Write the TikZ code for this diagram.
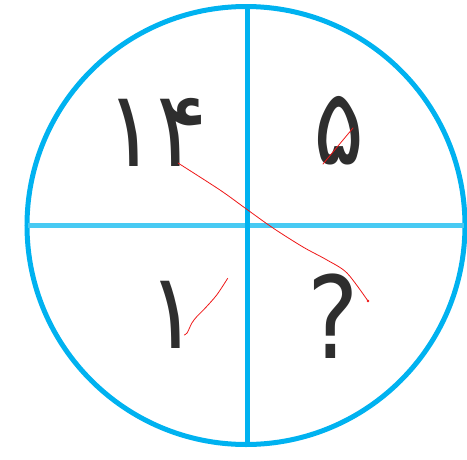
\documentclass[tikz,border=0pt]{standalone}
\usepackage{fontspec}
\newfontfamily\persianfont{DejaVu Sans}
\usetikzlibrary{positioning}
\definecolor{ringcyan}{RGB}{0,178,240}
\definecolor{barcyan}{RGB}{72,202,243}
\definecolor{penred}{RGB}{238,24,24}

\begin{document}
\begin{tikzpicture}[x=1pt,y=-1pt,
    ring/.style={draw=ringcyan,line width=5pt},
    digit/.style={font=\persianfont\fontsize{106}{106}\selectfont,text=black!82,inner sep=0pt,xscale=.9},
    qmark/.style={font=\persianfont\fontsize{114}{114}\selectfont,text=black!82,inner sep=0pt,xscale=.85},
    penmark/.style={draw=penred,line width=.8pt,line cap=round,line join=round}]
  \useasboundingbox (0,0) rectangle (467,459);
  \coordinate (o) at (246,225.5);
  \draw[ring] (o) circle (219);
  \draw[barcyan,line width=5pt] (28,225) -- (464,225);
  \draw[ringcyan,line width=4.5pt] (247.5,5) -- (247.5,446);
  \node[digit] (fourteen) at (157,132) {۱۴};
  \node[digit] (five) at (339,131) {۵};
  \node[digit] (one) at (173,315) {۱};
  \node[qmark] (unknown) at (333,316) {?};
  \draw[penmark] plot[smooth] coordinates {(178,163) (220,190) (245,208) (273,228) (303,247) (327,260) (347,273) (368,301)};
  \fill[penred] (368,301) circle (1.4);
  \draw[penmark] (323,164) -- (353,128);
  \draw[penmark] plot[smooth] coordinates {(184.3,335) (187.3,332.7) (191.7,323.3) (196.7,316.7) (205,308.3) (216.7,295) (227.7,278.3)};
\end{tikzpicture}
\end{document}
